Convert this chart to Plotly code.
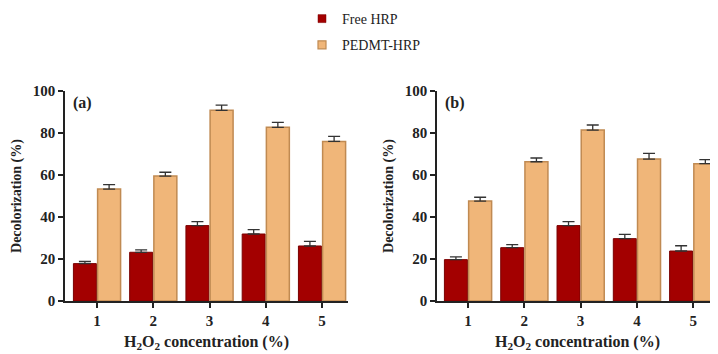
import plotly.graph_objects as go

categories = [1, 2, 3, 4, 5]
tick_labels = ["1", "2", "3", "4", "5"]

free_a = [17.8, 23.2, 35.9, 31.9, 26.2]
free_a_err = [1.0, 1.1, 1.9, 2.1, 2.2]
ped_a = [53.3, 59.5, 90.8, 82.7, 76.0]
ped_a_err = [2.1, 1.8, 2.5, 2.4, 2.4]

free_b = [19.7, 25.4, 35.9, 29.7, 23.8]
free_b_err = [1.3, 1.4, 1.9, 2.0, 2.5]
ped_b = [47.6, 66.3, 81.4, 67.6, 65.4]
ped_b_err = [1.8, 1.8, 2.4, 2.7, 1.9]

series_names = ["Free HRP", "PEDMT-HRP"]

RED = "#A30000"
RED_LINE = "#7A0000"
ORANGE = "#F0B679"
ORANGE_LINE = "#C08A52"
ERR = "#333333"
FONT = "Liberation Serif"

fig = go.Figure()

def add_pair(free, free_err, ped, ped_err, xa, ya):
    fig.add_trace(go.Bar(
        x=categories, y=free, name=series_names[0], showlegend=False,
        marker=dict(color=RED, line=dict(color=RED_LINE, width=1)),
        error_y=dict(type="data", array=free_err, arrayminus=[0]*len(free_err), symmetric=False,
                     color=ERR, thickness=1.3, width=6),
        xaxis=xa, yaxis=ya))
    fig.add_trace(go.Bar(
        x=categories, y=ped, name=series_names[1], showlegend=False,
        marker=dict(color=ORANGE, line=dict(color=ORANGE_LINE, width=1.5)),
        error_y=dict(type="data", array=ped_err, arrayminus=[0]*len(ped_err), symmetric=False,
                     color=ERR, thickness=1.3, width=6),
        xaxis=xa, yaxis=ya))

add_pair(free_a, free_a_err, ped_a, ped_a_err, "x", "y")
add_pair(free_b, free_b_err, ped_b, ped_b_err, "x2", "y2")

# legend-only entries (small square markers like the reference)
fig.add_trace(go.Scatter(x=[None], y=[None], mode="markers", name=series_names[0],
                         legendgroup="free",
                         marker=dict(symbol="square", size=8, color=RED,
                                     line=dict(color=RED_LINE, width=0.5))))
fig.add_trace(go.Scatter(x=[None], y=[None], mode="markers", name=series_names[1],
                         legendgroup="ped",
                         marker=dict(symbol="square", size=8, color=ORANGE,
                                     line=dict(color=ORANGE_LINE, width=1.2))))

# page body has an 8px margin, so figure is 8px smaller and coordinates shifted
OFF = 8
W, H = 718 - OFF, 354 - OFF

def px_x(x):
    return (x - OFF) / W

def px_y(y):
    return 1 - (y - OFF) / H

ydom = [px_y(301), px_y(91)]

tickfont = dict(family=FONT, size=15, color="#222222", weight="bold")
xcommon = dict(tickvals=categories, ticktext=tick_labels, showline=True, linecolor="#222222",
               linewidth=1.5, ticks="outside", ticklen=5, tickwidth=1.5, tickcolor="#222222",
               showgrid=False, zeroline=False, automargin=False, tickfont=tickfont,
               title=dict(text="H<sub>2</sub>O<sub>2</sub> concentration (%)",
                          font=dict(family=FONT, size=16, color="#222222", weight="bold"),
                          standoff=8))
ycommon = dict(range=[0, 100], tickvals=[0, 20, 40, 60, 80, 100], showline=True,
               linecolor="#222222", linewidth=1.5, ticks="outside", ticklen=5, tickwidth=1.5,
               tickcolor="#222222", showgrid=False, zeroline=False, automargin=False,
               tickfont=tickfont,
               title=dict(text="Decolorization (%)",
                          font=dict(family=FONT, size=14, color="#222222", weight="bold"),
                          standoff=8))

fig.update_layout(
    width=W, height=H,
    margin=dict(l=0, r=0, t=0, b=0, autoexpand=False),
    paper_bgcolor="white", plot_bgcolor="white",
    barmode="group", bargap=0.14, bargroupgap=0.05,
    font=dict(family=FONT, color="#222222"),
    xaxis=dict(domain=[px_x(65), px_x(348)], range=[0.431, 5.462], anchor="y", **xcommon),
    yaxis=dict(domain=ydom, anchor="x", **ycommon),
    xaxis2=dict(domain=[px_x(437), 1.0], range=[0.449, 5.44], anchor="y2", **xcommon),
    yaxis2=dict(domain=ydom, anchor="x2", **ycommon),
    legend=dict(x=px_x(302), y=px_y(3), xanchor="left", yanchor="top", orientation="v",
                font=dict(family=FONT, size=14, color="#222222"),
                tracegroupgap=5, bgcolor="rgba(0,0,0,0)"),
    annotations=[
        dict(text="(a)", x=px_x(71), y=px_y(103), xref="paper", yref="paper",
             xanchor="left", yanchor="middle", showarrow=False,
             font=dict(family=FONT, size=16, color="#222222", weight="bold")),
        dict(text="(b)", x=px_x(443), y=px_y(103), xref="paper", yref="paper",
             xanchor="left", yanchor="middle", showarrow=False,
             font=dict(family=FONT, size=16, color="#222222", weight="bold")),
    ],
)

fig.write_html("out.html")
